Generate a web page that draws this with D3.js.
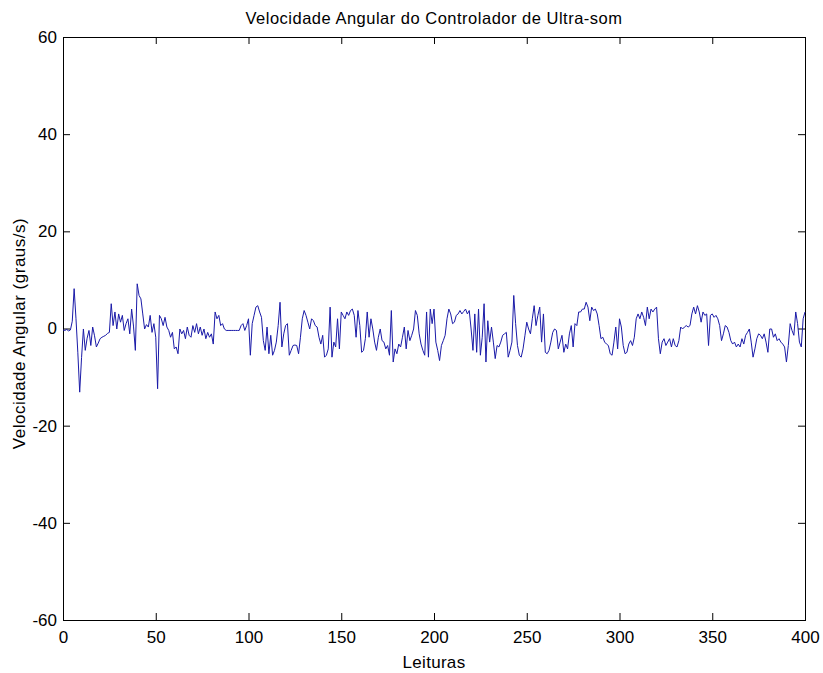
<!DOCTYPE html>
<html>
<head>
<meta charset="utf-8">
<script src="https://cdn.jsdelivr.net/npm/d3@7"></script>
<style>
  html, body { margin: 0; padding: 0; background: #fff; }
  svg { display: block; }
  text { font-family: Arial, "Liberation Sans", Helvetica, sans-serif; fill: #000; }
</style>
</head>
<body>
<svg id="chart" width="823" height="673"></svg>
<script>
const title = "Velocidade Angular do Controlador de Ultra-som";
const xLabel = "Leituras";
const yLabel = "Velocidade Angular (graus/s)";
const xTicks = [0, 50, 100, 150, 200, 250, 300, 350, 400];
const yTicks = [-60, -40, -20, 0, 20, 40, 60];
// angular velocity per reading (index = reading number 0..400)
const velocity = [
  -0.3, -0.4, -0.2, -0.5, -0.3, 1.5, 8.2, 2.0, -5.0, -13.1,
  -6.0, -0.1, -4.5, -2.0, -0.4, -3.5, 0.3, -1.5, -3.8, -3.0,
  -2.1, -1.8, -1.6, -1.4, -1.0, -0.8, 5.1, 0.6, 3.4, -0.1,
  3.0, 1.3, 2.7, -0.4, 1.0, 2.0, -1.1, 4.0, 0.5, -4.5,
  9.2, 6.8, 6.1, 3.0, -0.1, 0.8, 0.3, 2.7, -0.8, 1.0,
  -1.8, -12.4, 2.7, 2.0, 0.6, 2.3, 0.3, -0.4, -1.8, -0.8,
  -4.2, -3.8, -5.2, -0.1, -1.1, -0.4, -2.1, 0.3, -1.4, -1.8,
  0.6, -0.8, 1.0, -1.1, 0.3, -1.4, -0.1, -2.1, -0.8, -1.8,
  -1.1, -3.2, 3.4, 2.0, 2.7, 0.6, 1.0, -0.1, -0.4, -0.4,
  -0.4, -0.4, -0.4, -0.4, -0.4, -0.4, 0.6, 1.0, -0.4, 0.6,
  2.0, -5.5, 1.0, 2.7, 4.4, 4.7, 3.4, 2.3, -2.5, -4.5,
  0.3, -5.2, -1.4, -5.5, -4.5, -2.8, 0.6, 5.4, -3.8, -1.1,
  0.6, 1.0, -5.5, -4.5, -3.5, -3.4, -3.5, -5.2, -1.8, 2.0,
  3.7, 2.7, 1.3, -0.1, 2.0, 1.6, 0.6, 0.3, -1.8, -3.2,
  -1.4, -5.9, -5.5, -4.2, 4.4, -5.9, -2.8, -3.8, 2.0, -4.2,
  3.4, 2.7, 2.0, 3.4, 2.7, 3.7, 4.0, 2.7, -1.8, 3.7,
  0.6, -4.9, -4.5, -2.1, 3.4, -1.8, 2.0, -0.1, -2.8, -4.5,
  -1.8, -0.1, -2.5, -2.8, -4.2, -3.5, -5.5, 3.7, -6.9, -4.2,
  -5.2, -3.2, -3.8, -1.8, 0.3, -4.2, -0.4, -2.5, -1.4, -0.1,
  3.7, 2.7, -1.1, -3.2, -4.5, -5.5, 3.4, -5.9, 4.0, 1.0,
  4.0, -2.8, -4.5, -6.6, -3.5, -2.5, -1.4, 2.0, 4.0, 3.0,
  1.0, 1.3, 2.7, 3.0, 3.7, 3.0, 3.5, 4.0, 3.0, 3.7,
  -0.1, -4.5, 3.0, -4.9, 4.0, -5.5, -1.8, 5.1, -6.9, 1.6,
  -2.8, 0.3, -2.8, -6.2, -3.5, -3.8, -2.8, -1.4, -1.1, -0.8,
  -5.9, -4.5, -2.8, 6.8, 1.0, -3.5, -5.5, -5.9, -4.2, -1.5,
  1.3, -0.1, -1.1, 2.0, 4.7, 0.6, 2.7, 4.4, -2.8, 3.0,
  -4.9, -5.2, -4.5, -2.8, -0.8, -0.1, -0.4, -4.2, -2.8, -1.4,
  -4.9, -3.2, -4.2, -1.1, 0.6, -3.8, 1.0, 0.6, 3.4, 3.4,
  4.0, 4.0, 5.4, 4.4, 1.6, 4.4, 3.7, 4.0, 3.0, 0.6,
  -2.1, -1.8, -2.8, -3.2, -3.5, -5.2, -5.5, -2.8, 0.3, -4.2,
  2.0, 0.3, -3.5, -5.2, -4.9, -3.2, -2.5, -3.5, -1.8, 2.0,
  3.0, 2.0, 3.4, 2.3, 0.6, 4.4, 2.0, 4.0, 3.4, 4.0,
  4.4, -2.1, -5.2, -2.8, -2.1, -3.5, -2.8, -2.1, -3.8, -2.1,
  -3.5, -3.8, -2.5, 0.3, -0.1, 0.3, 0.6, 0.3, 0.6, 3.0,
  4.4, 3.0, 4.7, 3.4, 1.3, 3.4, 2.7, 3.0, -3.5, 2.7,
  3.0, 2.3, 2.7, 2.0, 0.6, -2.5, -1.1, 0.6, 0.3, -0.8,
  -2.5, -3.2, -2.8, -3.8, -3.2, -3.8, -2.1, -3.2, -1.4, -0.8,
  -0.1, -2.8, -5.9, -4.2, -2.1, -1.1, -1.4, -2.1, -1.1, -2.8,
  -4.9, -0.1, -0.1, -1.8, -1.1, -2.5, -2.1, -2.8, -3.2, -3.8,
  -6.9, -3.5, 1.0, -0.4, -1.4, 3.4, 1.0, -2.8, -3.8, 2.0,
  3.4
];

const margin = { left: 63, right: 18, top: 37, bottom: 53 };
const W = 823, H = 673;
const iw = W - margin.left - margin.right;
const ih = H - margin.top - margin.bottom;

const svg = d3.select("#chart");
const g = svg.append("g").attr("transform", `translate(${margin.left},${margin.top})`);

const x = d3.scaleLinear().domain([0, 400]).range([0, iw]);
const y = d3.scaleLinear().domain([-60, 60]).range([ih, 0]);

const tickLen = 7;
const fs = "17px";
const fmt = d => String(d);

const xb = g.append("g").attr("transform", `translate(0,${ih})`)
  .call(d3.axisBottom(x).tickValues(xTicks).tickSizeInner(-tickLen).tickSizeOuter(0).tickPadding(11).tickFormat(fmt));
const xt = g.append("g")
  .call(d3.axisTop(x).tickValues(xTicks).tickSizeInner(-tickLen).tickSizeOuter(0).tickFormat(""));
const yl = g.append("g")
  .call(d3.axisLeft(y).tickValues(yTicks).tickSizeInner(-tickLen).tickSizeOuter(0).tickPadding(6).tickFormat(fmt));
const yr = g.append("g").attr("transform", `translate(${iw},0)`)
  .call(d3.axisRight(y).tickValues(yTicks).tickSizeInner(-tickLen).tickSizeOuter(0).tickFormat(""));

[xb, xt, yl, yr].forEach(a => {
  a.select(".domain").remove();
  a.selectAll("line").attr("stroke", "#000").attr("stroke-width", 1);
  a.selectAll("text").style("font-size", fs).style("font-family", "Arial, 'Liberation Sans', sans-serif").attr("fill", "#000");
});

g.append("rect").attr("x", 0.5).attr("y", 0.5).attr("width", iw).attr("height", ih)
  .attr("fill", "none").attr("stroke", "#000").attr("stroke-width", 1);

const line = d3.line().x((d, i) => x(i)).y(d => y(d));
g.append("path").datum(velocity)
  .attr("fill", "none").attr("stroke", "#1a1aa8").attr("stroke-width", 1)
  .attr("d", line);

svg.append("text").attr("x", margin.left + iw / 2).attr("y", 24)
  .attr("text-anchor", "middle").style("font-size", "16.5px").style("letter-spacing", "0.5px").text(title);
svg.append("text").attr("x", margin.left + iw / 2).attr("y", 668)
  .attr("text-anchor", "middle").style("font-size", fs).style("letter-spacing", "0.3px").text(xLabel);
svg.append("text").attr("transform", `translate(25,${margin.top + ih / 2 + 5}) rotate(-90)`)
  .attr("text-anchor", "middle").style("font-size", fs).style("letter-spacing", "0.5px").text(yLabel);
</script>
</body>
</html>
